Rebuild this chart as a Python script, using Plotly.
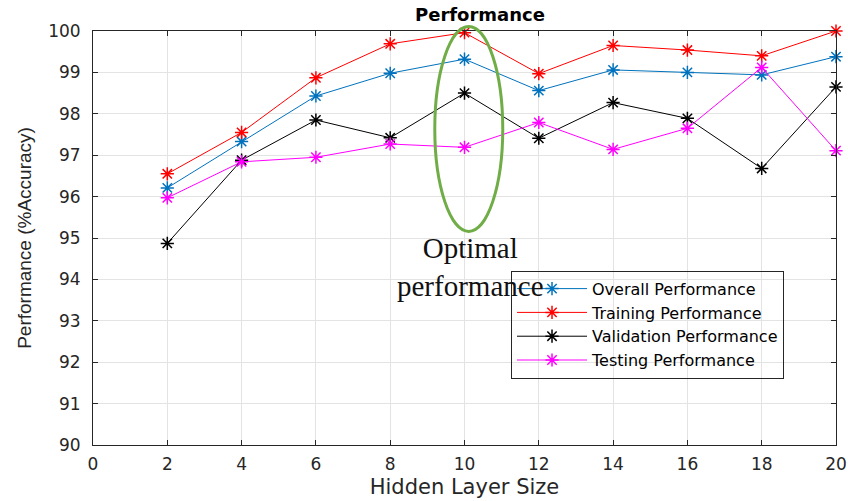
import plotly.graph_objects as go

hidden_sizes = [2, 4, 6, 8, 10, 12, 14, 16, 18, 20]
overall = [96.21, 97.33, 98.43, 98.98, 99.32, 98.56, 99.06, 99.00, 98.94, 99.38]
training = [96.55, 97.55, 98.87, 99.69, 99.96, 98.97, 99.65, 99.54, 99.40, 100.0]
validation = [94.87, 96.88, 97.85, 97.42, 98.50, 97.41, 98.27, 97.89, 96.68, 98.65]
testing = [95.97, 96.84, 96.95, 97.27, 97.19, 97.79, 97.14, 97.65, 99.12, 97.11]

series_names = ["Overall Performance", "Training Performance",
                "Validation Performance", "Testing Performance"]
series_colors = ["#0072BD", "#FF0000", "#000000", "#FF00FF"]
series_values = [overall, training, validation, testing]

x_range = [0, 20]
y_range = [90, 100]

# Ellipse highlighting the optimal hidden size (data units)
ell_x = [9.2, 11.03]
ell_y = [95.16, 100.11]

SANS = "DejaVu Sans, Verdana, sans-serif"
NARROW = "Liberation Sans, Arial, sans-serif"
SERIF = "Liberation Serif, Times New Roman, serif"

fig = go.Figure()
for name, color, vals in zip(series_names, series_colors, series_values):
    fig.add_trace(go.Scatter(
        x=hidden_sizes, y=vals, name=name, mode="lines+markers",
        line=dict(color=color, width=1),
        marker=dict(symbol="asterisk-open", size=11, color=color,
                    line=dict(color=color, width=1.5)),
        cliponaxis=False,
    ))

def ypaper(v):
    return (v - y_range[0]) / (y_range[1] - y_range[0])

fig.add_shape(type="circle", xref="x", yref="paper",
              x0=ell_x[0], x1=ell_x[1], y0=ypaper(ell_y[0]), y1=ypaper(ell_y[1]),
              line=dict(color="#70AD47", width=3), layer="above")

fig.add_annotation(x=10.17, y=94.29, xref="x", yref="y",
                   text="Optimal<br>performance", showarrow=False,
                   font=dict(family=SERIF, size=29, color="#111111"),
                   align="center")

axis_common = dict(
    showline=True, linecolor="#262626", linewidth=1, mirror="ticks",
    ticks="inside", ticklen=5, tickcolor="#262626", tickwidth=1,
    showgrid=True, gridcolor="#E3E3E3", gridwidth=1, zeroline=False,
    automargin=False,
    tickfont=dict(family=SANS, size=17, color="#262626"),
)

fig.update_layout(
    width=848, height=501,
    margin=dict(l=93, r=12, t=31, b=56),
    paper_bgcolor="white", plot_bgcolor="white",
    title=dict(text="<b>Performance</b>", x=480 / 848, xanchor="center",
               y=1 - 15 / 501, yanchor="middle",
               font=dict(family=SANS, size=18, color="#000000")),
    xaxis=dict(range=x_range, dtick=2, tick0=0, ticklabelstandoff=4,
               title=dict(text="Hidden Layer Size", standoff=5,
                          font=dict(family=SANS, size=21, color="#262626")),
               **axis_common),
    yaxis=dict(range=y_range, dtick=1, tick0=90, ticklabelstandoff=8,
               title=dict(text="Performance (%Accuracy)", standoff=11,
                          font=dict(family=NARROW, size=19, color="#262626")),
               **axis_common),
    legend=dict(x=0.5626, y=0.421, xanchor="left", yanchor="top",
                bgcolor="rgba(255,255,255,0)", bordercolor="#262626", borderwidth=1,
                font=dict(family=SANS, size=16, color="#000000"),
                tracegroupgap=0, itemwidth=70, entrywidth=300, entrywidthmode="pixels"),
    showlegend=True,
)

fig.write_html("out.html")
